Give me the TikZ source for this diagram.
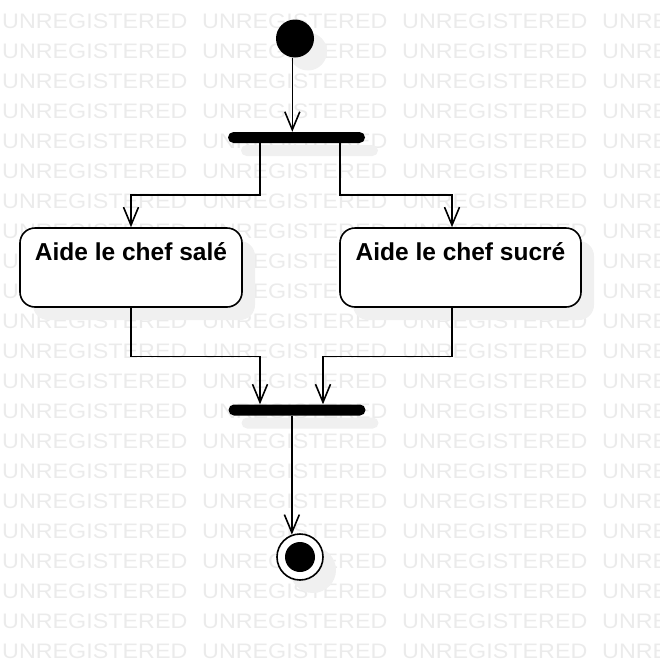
\documentclass[tikz,border=0pt]{standalone}
\usepackage{fontspec}
\setsansfont{Liberation Sans}
\usepackage{tikz}
\usetikzlibrary{arrows.meta,shadows}

\begin{document}
\begin{tikzpicture}[x=1pt,y=-1pt,
    >={Straight Barb[length=18pt,width=15pt]},
    wmark/.style={anchor=base west,inner sep=0pt,text=black!8,font=\sffamily\fontsize{21}{21}\selectfont},
    shade/.style={drop shadow={shadow xshift=13pt,shadow yshift=-13pt,opacity=1,fill=black!6}},
    initial/.style={circle,fill=black,minimum size=38pt,inner sep=0pt,shade},
    final/.style={circle,draw=black,line width=1.6pt,fill=white,minimum size=46pt,inner sep=0pt,shade},
    bar/.style={rectangle,fill=black,rounded corners=5.5pt,minimum width=137pt,minimum height=11pt,inner sep=0pt,shade},
    action/.style={rectangle,draw=black,line width=1.6pt,fill=white,rounded corners=15pt,inner xsep=0pt,inner ysep=0pt,
      text height=32pt,text depth=47pt,font=\sffamily\bfseries\fontsize{24.5}{28}\selectfont,shade},
    flow/.style={->,line width=1.6pt}]
    \useasboundingbox (0,0) rectangle (660,662);
    \begin{scope}
      \clip (0,0) rectangle (660,662);
      \foreach \r in {-1,...,21}
        \foreach \c in {0,...,3}
          \node [wmark] (wm-\r-\c) at (2+200*\c,28+30*\r) {\scalebox{1.11}[1]{UNREGISTERED}};
    \end{scope}
    \node [initial] (start) at (295,38.5) {};
    \node [bar] (fork) at (296.5,137.5) {};
    \node [action,minimum width=222pt] (sale) at (131,267.5) {Aide le chef salé};
    \node [action,minimum width=241pt] (sucre) at (460.5,267.5) {Aide le chef sucré};
    \node [bar] (join) at (297,410) {};
    \node [final] (stop) at (300,557) {};
    \node [circle,fill=black,minimum size=30pt,inner sep=0pt] (stopdot) at (stop) {};
    \draw [flow] (start.262) -- (start.262 |- fork.north);
    \draw [flow] ([xshift=-36.5pt]fork.south) -- ++(0,52) -| (sale.north);
    \draw [flow] ([xshift=43.5pt]fork.south) -- ++(0,52) -| ([xshift=-8.5pt]sucre.north);
    \draw [flow] (sale.south) -- ++(0,48.5) -| ([xshift=-37pt]join.north);
    \draw [flow] ([xshift=-8.5pt]sucre.south) -- ++(0,48.5) -| ([xshift=26pt]join.north);
    \draw [flow] (stop.110 |- join.south) -- (stop.110);
  \end{tikzpicture}
\end{document}
